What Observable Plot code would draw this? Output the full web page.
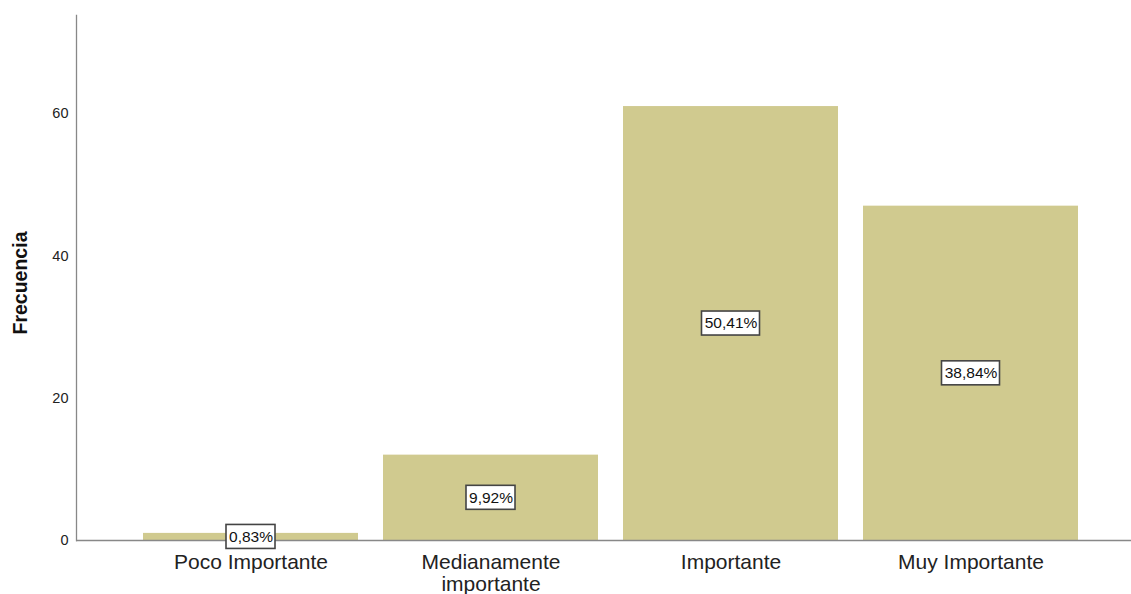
<!DOCTYPE html>
<html><head><meta charset="utf-8">
<script src="https://cdn.jsdelivr.net/npm/d3@7"></script>
<script src="https://cdn.jsdelivr.net/npm/@observablehq/plot@0.6"></script>
<style>
html,body{margin:0;padding:0;background:#fff;}
#chart svg{display:block;font-family:"Liberation Sans",Arial,sans-serif;}
</style></head>
<body><div id="chart"></div>
<script>
const categories = ["Poco Importante", "Medianamente importante", "Importante", "Muy Importante"];
const tickLabels = ["Poco Importante", "Medianamente\nimportante", "Importante", "Muy Importante"];
const frequencies = [1, 12, 61, 47];
const percentLabels = ["0,83%", "9,92%", "50,41%", "38,84%"];
const yTicks = [0, 20, 40, 60];

const data = categories.map((c, i) => ({cat: c, v: frequencies[i], pct: percentLabels[i]}));
const short = data.filter(d => d.pct.length <= 5);
const long = data.filter(d => d.pct.length > 5);
const boxOpts = (w) => ({x: "cat", y1: d => d.v / 2, y2: d => d.v / 2,
  insetLeft: (215 - w) / 2, insetRight: (215 - w) / 2, insetTop: -12, insetBottom: -12,
  fill: "white", stroke: "#444", strokeWidth: 1.6});

const chart = Plot.plot({
  width: 1131, height: 594,
  marginLeft: 76, marginRight: 0, marginTop: 15, marginBottom: 54,
  style: {fontFamily: "'Liberation Sans', Arial, sans-serif", background: "white"},
  x: {domain: categories, range: [129, 1092], paddingInner: 0.105, paddingOuter: 0.0525, label: null},
  y: {domain: [0, 73.8], label: null},
  marks: [
    Plot.barY(data, {x: "cat", y: "v", fill: "#d0ca8f"}),
    Plot.ruleY([0], {stroke: "#888", strokeWidth: 1.3}),
    Plot.frame({anchor: "left", stroke: "#888", strokeWidth: 1.3}),
    Plot.axisY({ticks: yTicks, tickSize: 0, tickPadding: 8, fontSize: 14.5, color: "#222", label: null}),
    Plot.axisX({tickSize: 0, tickPadding: 12, fontSize: 21, color: "#222", label: null,
      tickFormat: (d) => tickLabels[categories.indexOf(d)], lineHeight: 1.08}),
    Plot.rect(short, boxOpts(49)),
    Plot.rect(long, boxOpts(58)),
    Plot.text(data, {x: "cat", y: d => d.v / 2, text: "pct", fontSize: 15.5, fill: "#111"}),
    Plot.text(["Frecuencia"], {frameAnchor: "left", textAnchor: "middle", rotate: -90, dx: -56, dy: 5, fontSize: 19.5, fontWeight: "bold", fill: "#111"})
  ]
});
document.getElementById("chart").appendChild(chart);
</script>
</body></html>
